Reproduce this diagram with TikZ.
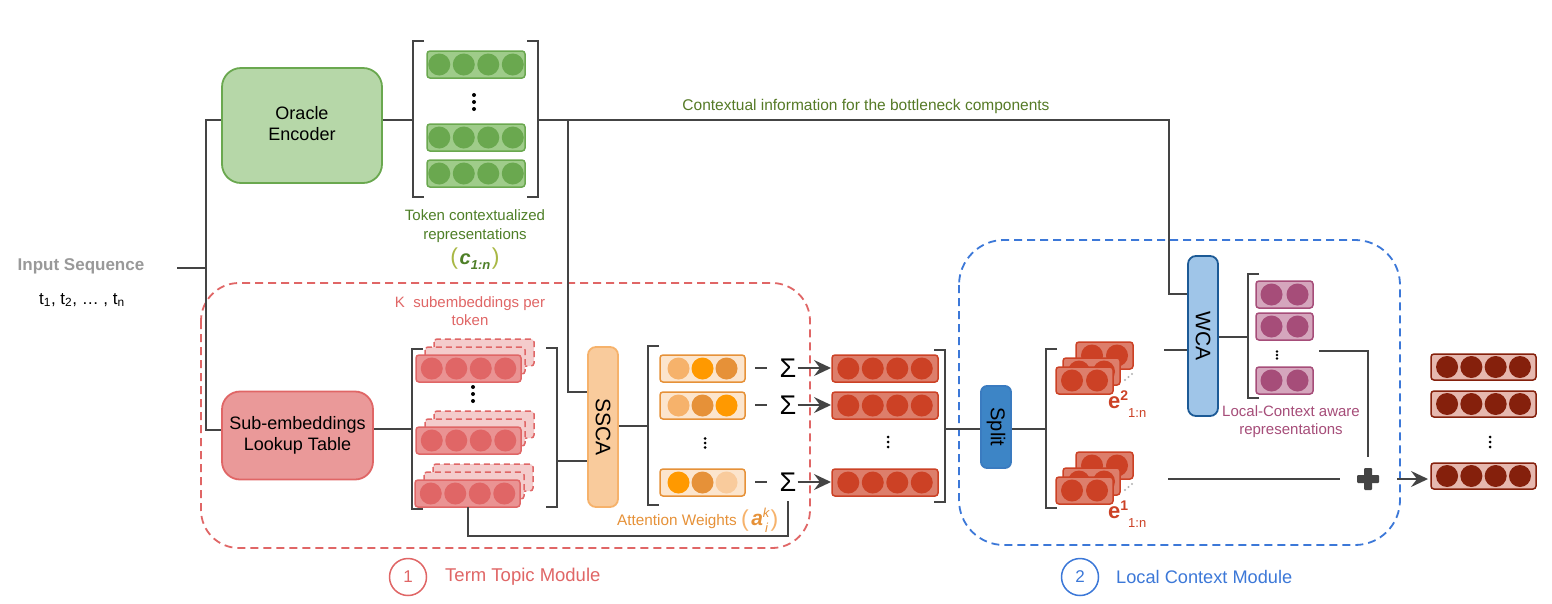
\documentclass[tikz,border=0pt]{standalone}
\usepackage{fontspec}
\setmainfont{Liberation Sans}
\usetikzlibrary{arrows.meta,calc}
\definecolor{lnc}{HTML}{444444}
\definecolor{orfill}{HTML}{B6D7A8}
\definecolor{orstroke}{HTML}{6AA84F}
\definecolor{gfill}{HTML}{9FCC8A}
\definecolor{gc}{HTML}{6AA84F}
\definecolor{lufill}{HTML}{EA9999}
\definecolor{tred}{HTML}{E06666}
\definecolor{sbback}{HTML}{F4CCCC}
\definecolor{sbfill}{HTML}{EA9393}
\definecolor{sscafill}{HTML}{F9CB9C}
\definecolor{sscastroke}{HTML}{F6B26B}
\definecolor{ofill}{HTML}{FCE5CD}
\definecolor{ostroke}{HTML}{E69138}
\definecolor{oa}{HTML}{F6B26B}
\definecolor{ob}{HTML}{FF9900}
\definecolor{oc}{HTML}{E69138}
\definecolor{od}{HTML}{F9CB9C}
\definecolor{rfill}{HTML}{DD7E6B}
\definecolor{rc}{HTML}{CC4125}
\definecolor{splitfill}{HTML}{3D85C6}
\definecolor{splitstroke}{HTML}{3A7BC0}
\definecolor{wcafill}{HTML}{9FC5E8}
\definecolor{wcastroke}{HTML}{1C5A96}
\definecolor{pfill}{HTML}{D5A6BD}
\definecolor{pc}{HTML}{A64D79}
\definecolor{outfill}{HTML}{E6B8AF}
\definecolor{outc}{HTML}{85200C}
\definecolor{tblue}{HTML}{3C78D8}
\definecolor{inpc}{HTML}{999999}
\definecolor{gtxt}{HTML}{4E7F27}
\definecolor{ctxc}{HTML}{557A26}
\definecolor{parg}{HTML}{A9B845}
\definecolor{paro}{HTML}{F6B26B}

\def\vcr{11}
\newcommand{\myvec}[8]{%
  \draw[#5] (#1,#2) rectangle ++(#3,#4);
  \foreach \vcol [count=\ii] in {#8}
    \fill[\vcol] ({#1+#3/2+(\ii-(#6+1)/2)*#7},{#2+#4/2}) circle[radius=\vcr];
}
\newcommand{\vdts}[5]{\foreach \k in {-1,0,1} \fill[#5] (#1,{#2+\k*#3}) circle[radius=#4];}
\newcommand{\lbrk}[3]{\draw[conn] ({#1+11},#2) -- (#1,#2) -- (#1,#3) -- ({#1+11},#3);}
\newcommand{\rbrk}[3]{\draw[conn] ({#1-11},#2) -- (#1,#2) -- (#1,#3) -- ({#1-11},#3);}
\newcommand{\substk}[2]{%
  \draw[subback] ({#1+18},{#2-16}) rectangle ++(100,27);
  \draw[subback] ({#1+9},{#2-8}) rectangle ++(100,27);
  \myvec{#1}{#2}{105}{27}{sbvec}{4}{24.5}{tred,tred,tred,tred}
}
\newcommand{\estk}[2]{%
  \myvec{#1+20}{#2-25}{57}{27}{rvec}{2}{25}{rc,rc}
  \myvec{#1+7}{#2-9}{57}{27}{rvec}{2}{25}{rc,rc}
  \myvec{#1}{#2}{57}{27}{rvec}{2}{25}{rc,rc}
  \foreach \k in {0,1,2} \fill[gray!60] ({#1+69+\k*3.5},{#2+13-\k*3}) circle[radius=1.2];
}

\tikzset{
  conn/.style={draw=lnc, line width=1.9pt},
  arr/.style={draw=lnc, line width=1.9pt, -{Stealth[length=17pt,width=16pt,inset=6pt]}},
  blk/.style={rectangle, line width=1.8pt, align=center, inner sep=0pt},
  gvec/.style={fill=gfill, draw=gc, line width=1.5pt, rounded corners=3pt},
  sbvec/.style={fill=sbfill, draw=tred, line width=1.5pt, rounded corners=3pt},
  subback/.style={fill=sbback, draw=tred, line width=1.5pt, dash pattern=on 6pt off 4pt, rounded corners=3pt},
  ovec/.style={fill=ofill, draw=ostroke, line width=1.5pt, rounded corners=3pt},
  rvec/.style={fill=rfill, draw=rc, line width=1.5pt, rounded corners=3pt},
  pvec/.style={fill=pfill, draw=pc, line width=1.5pt, rounded corners=3pt},
  ovvec/.style={fill=outfill, draw=outc, line width=1.5pt, rounded corners=3pt},
  dashbox/.style={line width=1.8pt, dash pattern=on 8pt off 5pt},
  sig/.style={font=\fontsize{27}{27}\selectfont, inner sep=1pt},
  lbl/.style={align=center, inner sep=0pt},
}

\begin{document}
\begin{tikzpicture}[x=1pt,y=-1pt]
\useasboundingbox[fill=white] (0,0) rectangle (1552,603);

% module frames
\draw[dashbox, draw=tred, rounded corners=38pt] (201,283) rectangle (810,548);
\draw[dashbox, draw=tblue, rounded corners=45pt] (959,240) rectangle (1400,545);

% input
\node[lbl, font=\bfseries\fontsize{17}{17}\selectfont, text=inpc] (inp) at (81,266) {Input Sequence};
\node[lbl, font=\fontsize{17}{17}\selectfont] (toks) at (82,300) {t\textsubscript{1}, t\textsubscript{2}, … , t\textsubscript{n}};
\coordinate (inR) at (177,268);
\coordinate (busT) at (206,120);
\coordinate (busM) at (206,268);
\coordinate (busB) at (206,430);

\node[blk, fill=orfill, draw=orstroke, rounded corners=19pt, minimum width=160, minimum height=115,
      font=\fontsize{18}{21}\selectfont] (oracle) at (302,125.5) {\raisebox{4pt}{Oracle}\\\raisebox{4pt}{Encoder}};
\node[blk, fill=lufill, draw=tred, rounded corners=18pt, minimum width=151, minimum height=88,
      font=\fontsize{18}{21}\selectfont] (lookup) at (297.5,435.5) {Sub-embeddings\\Lookup Table};

\draw[conn] (inR) -- (busM);
\draw[conn] (oracle.west |- busT) -- (busT) -- (busB) -- (lookup.west |- busB);

% green representations
\lbrk{413}{41}{197}
\rbrk{538}{41}{197}
\myvec{427}{51}{98}{27}{gvec}{4}{24.5}{gc,gc,gc,gc}
\myvec{427}{124}{98}{27}{gvec}{4}{24.5}{gc,gc,gc,gc}
\myvec{427}{160}{98}{27}{gvec}{4}{24.5}{gc,gc,gc,gc}
\vdts{474}{102}{7}{2}{black}
\node[lbl, text=gtxt, font=\fontsize{15}{19}\selectfont] (tokl) at (475,226.5) {Token contextualized\\representations};
\node[lbl] (cl) at (475,259) {{\fontsize{23}{23}\selectfont\color{parg}(}\,{\fontsize{20}{20}\selectfont\bfseries\itshape\color{gtxt}c}\raisebox{-5pt}{\fontsize{13}{13}\selectfont\bfseries\itshape\color{gtxt}1:n}\,{\fontsize{23}{23}\selectfont\color{parg})}};

% context lines
\coordinate (gL) at (413,120);
\coordinate (gR) at (538,120);
\coordinate (ctxB) at (568,120);
\coordinate (ctxT) at (1169,120);
\coordinate (wcaIn) at (1169,294);
\coordinate (sscaIn) at (568,392);
\node[blk, fill=sscafill, draw=sscastroke, rounded corners=8pt, minimum width=30, minimum height=160,
      label={[rotate=-90, font=\fontsize{21}{21}\selectfont]center:SSCA}] (ssca) at (603,427) {};
\node[blk, fill=wcafill, draw=wcastroke, rounded corners=8pt, minimum width=30, minimum height=160,
      label={[rotate=-90, font=\fontsize{21}{21}\selectfont]center:WCA}] (wca) at (1203,336) {};
\node[blk, fill=splitfill, draw=splitstroke, rounded corners=6pt, minimum width=30, minimum height=82,
      label={[rotate=-90, font=\fontsize{20}{20}\selectfont]center:Split}] (split) at (996,427) {};

\draw[conn] (oracle.east |- gL) -- (gL);
\draw[conn] (gR) -- (ctxT) -- (wcaIn) -- (wca.west |- wcaIn);
\draw[conn] (ctxB) -- (sscaIn) -- (ssca.west |- sscaIn);
\node[lbl, text=ctxc, font=\fontsize{15.5}{15.5}\selectfont] (ctxl) at (866,106) {Contextual information for the bottleneck components};

% sub-embeddings
\node[lbl, text=tred, font=\fontsize{15}{18}\selectfont] (kl) at (470,311) {K\ \ subembeddings per\\token};
\substk{416}{355}
\substk{416}{427}
\substk{415}{480}
\vdts{473}{394}{7}{2}{black}
\lbrk{412}{349}{509}
\rbrk{557}{348}{507}
\coordinate (sbL) at (412,429);
\coordinate (sbR) at (557,461);
\coordinate (sub3) at (468,507);
\draw[conn] (lookup.east |- sbL) -- (sbL);
\draw[conn] (sbR) -- (ssca.west |- sbR);

% attention weights
\lbrk{648}{346}{505}
\coordinate (aL) at (648,426);
\draw[conn] (ssca.east |- aL) -- (aL);
\myvec{660}{355}{85}{27}{ovec}{3}{24}{oa,ob,oc}
\myvec{660}{392}{85}{27}{ovec}{3}{24}{oa,oc,ob}
\myvec{660}{469}{85}{27}{ovec}{3}{24}{ob,oc,od}
\vdts{705}{443}{4.5}{1.5}{black}

\node[sig] (s1) at (788,368) {Σ};
\node[sig] (s2) at (788,405) {Σ};
\node[sig] (s3) at (788,482) {Σ};
\foreach \s in {s1,s2,s3} {
  \draw[conn] ($(\s)+(-33,0)$) -- ($(\s)+(-21,0)$);
}
\coordinate (r1) at (831,368);
\coordinate (r2) at (831,405);
\coordinate (r3) at (831,482);
\draw[arr] (s1.east) -- (r1);
\draw[arr] (s2.east) -- (r2);
\draw[arr] (s3.east) -- (r3);
\draw[conn] (sub3) -- (468,536) -| ($(s3.south)+(0,9)$);

\node[lbl, text=ostroke, font=\fontsize{15.3}{15.3}\selectfont, anchor=west] (attl) at (617,520) {Attention Weights\ \raisebox{-1pt}{\fontsize{23}{23}\selectfont\color{paro}(}\,{\fontsize{21}{21}\selectfont\bfseries\itshape a}\rlap{\raisebox{8pt}{\fontsize{13}{13}\selectfont\itshape k}}\raisebox{-7pt}{\fontsize{13}{13}\selectfont\itshape\,i}\,\raisebox{-1pt}{\fontsize{23}{23}\selectfont\color{paro})}};

% result vectors
\myvec{832}{355}{106}{27}{rvec}{4}{24.5}{rc,rc,rc,rc}
\myvec{832}{392}{106}{27}{rvec}{4}{24.5}{rc,rc,rc,rc}
\myvec{832}{469}{106}{27}{rvec}{4}{24.5}{rc,rc,rc,rc}
\vdts{888}{442}{5}{1.5}{black}
\rbrk{945}{350}{502}
\coordinate (resR) at (945,429);
\draw[conn] (resR) -- (split.west |- resR);

% e stacks
\lbrk{1046}{349}{508}
\coordinate (eL) at (1046,429);
\draw[conn] (split.east |- eL) -- (eL);
\estk{1056}{367}
\estk{1056}{477}
\node[lbl, anchor=west, text=rc] (e2l) at (1108,404) {{\fontsize{22}{22}\selectfont\bfseries e}\raisebox{8pt}{\fontsize{14}{14}\selectfont\bfseries 2}\raisebox{-9pt}{\fontsize{13}{13}\selectfont 1:n}};
\node[lbl, anchor=west, text=rc] (e1l) at (1108,514) {{\fontsize{22}{22}\selectfont\bfseries e}\raisebox{8pt}{\fontsize{14}{14}\selectfont\bfseries 1}\raisebox{-9pt}{\fontsize{13}{13}\selectfont 1:n}};
\coordinate (e2out) at (1164,350);
\coordinate (e1out) at (1168,479);
\draw[conn] (e2out) -- (wca.west |- e2out);

% WCA outputs
\lbrk{1248}{274}{398}
\coordinate (pL) at (1248,337);
\draw[conn] (wca.east |- pL) -- (pL);
\myvec{1256}{281}{57}{27}{pvec}{2}{26}{pc,pc}
\myvec{1256}{313}{57}{27}{pvec}{2}{26}{pc,pc}
\myvec{1256}{367}{57}{27}{pvec}{2}{26}{pc,pc}
\vdts{1277}{355}{3.5}{1.3}{black}
\node[lbl, text=pc, font=\fontsize{15}{18}\selectfont] (lcl) at (1291,422) {Local-Context aware\\representations};

% plus
\node[minimum size=22, inner sep=0pt] (plus) at (1368,479) {};
\fill[lnc, rounded corners=1pt] ($(plus)+(-11,-4)$) rectangle ($(plus)+(11,4)$);
\fill[lnc, rounded corners=1pt] ($(plus)+(-4,-11)$) rectangle ($(plus)+(4,11)$);
\coordinate (pOut) at (1319,351);
\draw[conn] (pOut) -| ($(plus.north)+(0,-11)$);
\draw[conn] (e1out) -- ($(plus.west)+(-17,0)$);
\coordinate (outIn) at (1428,479);
\draw[arr] ($(plus.east)+(18,0)$) -- (outIn);

% outputs
\myvec{1431}{354}{105}{26}{ovvec}{4}{24.3}{outc,outc,outc,outc}
\myvec{1431}{391}{105}{26}{ovvec}{4}{24.3}{outc,outc,outc,outc}
\myvec{1431}{463}{105}{26}{ovvec}{4}{24.3}{outc,outc,outc,outc}
\vdts{1490}{442}{5}{1.5}{black}

% module titles
\node[circle, draw=tred, line width=1.5pt, minimum size=37, inner sep=0pt, text=tred, font=\fontsize{17}{17}\selectfont] (n1) at (408,577) {1};
\node[lbl, anchor=west, text=tred, font=\fontsize{18.5}{18.5}\selectfont] (m1) at (445,577) {Term Topic Module};
\node[circle, draw=tblue, line width=1.5pt, minimum size=37, inner sep=0pt, text=tblue, font=\fontsize{17}{17}\selectfont] (n2) at (1080,577) {2};
\node[lbl, anchor=west, text=tblue, font=\fontsize{18.2}{18.2}\selectfont] (m2) at (1116,577) {Local Context Module};
\end{tikzpicture}
\end{document}
